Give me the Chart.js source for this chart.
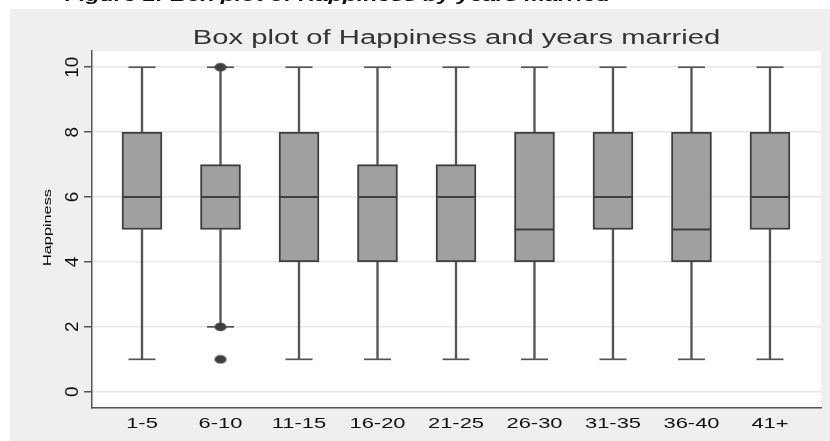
<!DOCTYPE html>
<html>
<head>
<meta charset="utf-8">
<script src="https://cdn.jsdelivr.net/npm/chart.js@4.4.1/dist/chart.umd.min.js"></script>
<style>
  html, body { margin: 0; padding: 0; background: #ffffff; }
  canvas { display: block; }
</style>
</head>
<body>
<canvas id="myChart" width="830" height="441"></canvas>
<script>
// years married groups
var categories = ["1-5", "6-10", "11-15", "16-20", "21-25", "26-30", "31-35", "36-40", "41+"];
// box plot stats for Happiness
var whiskerLow  = [1, 2, 1, 1, 1, 1, 1, 1, 1];
var quartile1   = [5, 5, 4, 4, 4, 4, 5, 4, 5];
var medians     = [6, 6, 6, 6, 6, 5, 6, 5, 6];
var quartile3   = [8, 7, 8, 7, 7, 8, 8, 8, 8];
var whiskerHigh = [10, 10, 10, 10, 10, 10, 10, 10, 10];
// outside values (group number, value)
var outlierGroup = [2, 2, 2];
var outlierValue = [10, 2, 1];
var yTicks = [0, 2, 4, 6, 8, 10];

var chartTitle = "Box plot of Happiness and years married";
var yTitle = "Happiness";
var caption = "Figure 1: Box plot of Happiness by years married";

var FONT = "'Liberation Sans', Arial, sans-serif";
var STRETCH = 1.46; // the picture text is wide

function pts(vals) {
    return vals.map(function (v, i) { return { x: i + 1, y: v }; });
}

var boxData = categories.map(function (c, i) { return { x: i + 1, y: [quartile1[i], quartile3[i]] }; });
var lowData = categories.map(function (c, i) { return { x: i + 1, y: [whiskerLow[i], quartile1[i]] }; });
var highData = categories.map(function (c, i) { return { x: i + 1, y: [quartile3[i], whiskerHigh[i]] }; });
var capData = pts(whiskerLow).concat(pts(whiskerHigh));
var outData = outlierGroup.map(function (g, i) { return { x: g, y: outlierValue[i] }; });

// wide dot for the outside values
var dot = document.createElement("canvas");
dot.width = 14; dot.height = 10;
var dctx = dot.getContext("2d");
dctx.fillStyle = "#404040";
dctx.beginPath();
dctx.ellipse(7, 5, 6, 4.3, 0, 0, Math.PI * 2);
dctx.fill();

function wideText(ctx, text, x, y, sx, rot) {
    ctx.save();
    ctx.translate(x, y);
    if (rot) ctx.rotate(rot);
    ctx.scale(sx, 1);
    ctx.fillText(text, 0, 0);
    ctx.restore();
}

// background, titles, tick labels
var decor = {
    id: "decor",
    beforeDraw: function (chart) {
        var ctx = chart.ctx, a = chart.chartArea;
        ctx.save();
        ctx.fillStyle = "#efefef";
        ctx.fillRect(10, 9, chart.width - 10, chart.height - 9);
        ctx.fillStyle = "#ffffff";
        ctx.fillRect(a.left, a.top, a.right - a.left, a.bottom - a.top);
        ctx.restore();
    },
    afterDraw: function (chart) {
        var ctx = chart.ctx, a = chart.chartArea, x = chart.scales.x, y = chart.scales.y;
        ctx.save();
        ctx.textBaseline = "alphabetic";

        ctx.fillStyle = "#111";
        ctx.font = "italic bold 16px " + FONT;
        ctx.textAlign = "left";
        wideText(ctx, caption, 65, 0.5, STRETCH);

        ctx.fillStyle = "#333";
        ctx.font = "20px " + FONT;
        ctx.textAlign = "center";
        wideText(ctx, chartTitle, 456.5, 44, STRETCH);

        ctx.fillStyle = "#111";
        ctx.font = "15px " + FONT;
        categories.forEach(function (c, i) {
            wideText(ctx, c, x.getPixelForValue(i + 1), 428, STRETCH);
        });

        ctx.font = "18px " + FONT;
        yTicks.forEach(function (v) {
            wideText(ctx, String(v), 78, y.getPixelForValue(v), 1.05, -Math.PI / 2);
        });

        ctx.fillStyle = "#000";
        ctx.font = "10.5px " + FONT;
        wideText(ctx, yTitle, 51, (a.top + a.bottom) / 2 - 2, 1.55, -Math.PI / 2);
        ctx.restore();
    }
};

new Chart("myChart", {
    type: "bar",
    data: {
        datasets: [{
            data: boxData,
            backgroundColor: "#a0a0a0",
            borderColor: "#3f3f3f",
            borderWidth: 2,
            borderSkipped: false,
            barThickness: 40,
            grouped: false,
            order: 3
        }, {
            data: lowData,
            backgroundColor: "#555555",
            borderWidth: 0,
            barThickness: 1.7,
            grouped: false,
            order: 4
        }, {
            data: highData,
            backgroundColor: "#555555",
            borderWidth: 0,
            barThickness: 1.7,
            grouped: false,
            order: 4
        }, {
            type: "scatter",
            data: capData,
            pointStyle: "line",
            radius: 13.5,
            borderWidth: 1.7,
            borderColor: "#555555",
            order: 2
        }, {
            type: "scatter",
            data: pts(medians),
            pointStyle: "line",
            radius: 19,
            borderWidth: 2,
            borderColor: "#3f3f3f",
            order: 1
        }, {
            type: "scatter",
            data: outData,
            pointStyle: dot,
            radius: 5,
            order: 0
        }]
    },
    plugins: [decor],
    options: {
        responsive: false,
        animation: false,
        layout: { autoPadding: false, padding: { top: 51, right: 9, left: 10, bottom: 0 } },
        plugins: {
            legend: { display: false },
            tooltip: { enabled: false }
        },
        scales: {
            x: {
                type: "linear",
                offset: false,
                min: 0.363,
                max: 9.65,
                afterBuildTicks: function (s) {
                    s.ticks = categories.map(function (c, i) { return { value: i + 1 }; });
                },
                afterFit: function (s) { s.height = 33; },
                grid: { display: false, drawTicks: false },
                border: { display: true, color: "#555555", width: 1.5 },
                ticks: { display: false }
            },
            y: {
                min: -0.5,
                max: 10.5,
                afterBuildTicks: function (s) {
                    s.ticks = yTicks.map(function (v) { return { value: v }; });
                },
                afterFit: function (s) { s.width = 82; },
                grid: {
                    color: "#e8e8e8",
                    lineWidth: 1.5,
                    tickColor: "#555555",
                    tickLength: 8,
                    tickWidth: 1.5
                },
                border: { display: true, color: "#555555", width: 1.5 },
                ticks: { display: false }
            }
        }
    }
});
</script>
</body>
</html>
